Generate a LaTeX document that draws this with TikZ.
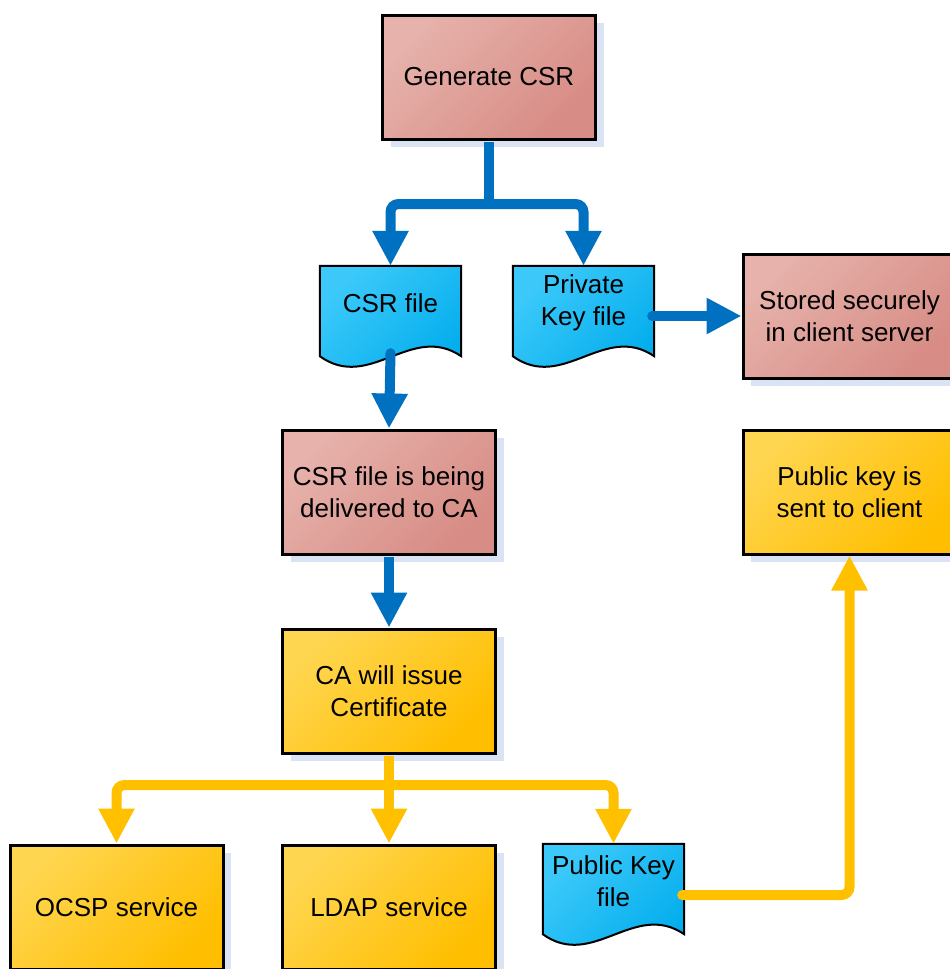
\documentclass[tikz,border=0pt]{standalone}
\usepackage{fontspec}
\setmainfont{Liberation Sans}
\usetikzlibrary{arrows.meta,shadows,backgrounds}

\definecolor{redtop}{RGB}{230,178,171}
\definecolor{redbot}{RGB}{215,140,133}
\definecolor{yeltop}{RGB}{255,214,80}
\definecolor{yelbot}{RGB}{255,190,0}
\definecolor{bluetop}{RGB}{60,201,250}
\definecolor{bluebot}{RGB}{0,172,236}
\definecolor{shadowc}{RGB}{218,227,243}
\definecolor{flowblue}{RGB}{0,112,192}
\definecolor{flowyellow}{RGB}{255,192,0}

% document (file) symbol drawn behind a text node
\newcommand\docpath[1]{(#1.north west) -- (#1.north east) -- ([shift={(0,16)}]#1.south east)
  .. controls ([shift={(-50,-18)}]#1.south east) and ([shift={(50,52)}]#1.south west) ..
  ([shift={(0,16)}]#1.south west) -- cycle}
\newcommand\docshape[1]{%
  \fill[shadowc, shift={(7,7)}] \docpath{#1};
  \shade[top color=bluetop, bottom color=bluebot, shading angle=45] \docpath{#1};
  \draw[line width=2pt, line join=miter] \docpath{#1};}

\begin{document}
\begin{tikzpicture}[x=1pt,y=-1pt,
  font=\fontsize{26}{32}\selectfont,
  box/.style={draw=black, line width=3pt, minimum width=213pt, minimum height=124pt,
    align=center, inner sep=0pt,
    general shadow={shadow xshift=8pt, shadow yshift=-8pt, fill=shadowc}},
  redbox/.style={box, top color=redtop, bottom color=redbot, shading angle=45},
  yelbox/.style={box, top color=yeltop, bottom color=yelbot, shading angle=45},
  docnode/.style={minimum width=141pt, minimum height=74pt, inner sep=0pt, align=center},
  tipshape/.style={-{Triangle[width=34pt,length=35pt]}},
  bflow/.style={draw=flowblue, line width=10pt},
  yflow/.style={draw=flowyellow, line width=10pt},
]
\useasboundingbox (0,0) rectangle (950,969);

% process boxes
\node[redbox] (gen)    at (489,77)    {Generate CSR};
\node[redbox] (stored) at (849.5,316) {Stored securely\\in client server};
\node[redbox] (deliv)  at (389,492)   {CSR file is being\\delivered to CA};
\node[yelbox] (pubsent) at (849.5,492) {Public key is\\sent to client};
\node[yelbox] (caiss)  at (389,691)   {CA will issue\\Certificate};
\node[yelbox] (ocsp)   at (116.5,907) {OCSP service};
\node[yelbox] (ldap)   at (389,907)   {LDAP service};

% file symbols
\node[docnode] (csrf) at (390.5,303) {CSR file};
\node[docnode] (pkf)  at (583.5,303) {Private\\Key file};
\node[docnode] (pubf) at (613.5,881) {Public Key\\file};
\begin{scope}[on background layer]
  \docshape{csrf}
  \docshape{pkf}
  \docshape{pubf}
\end{scope}

% blue flow
\coordinate (bsplit) at (489,204);
\draw[bflow] ([shift={(0,1.5)}]gen.south) -- (bsplit);
\draw[bflow, tipshape, rounded corners=8pt] (bsplit) -| (csrf.north);
\draw[bflow, tipshape, rounded corners=8pt] (bsplit) -| (pkf.north);
\draw[bflow, tipshape, line cap=round] ([shift={(0,13)}]csrf.south) -- (deliv.north);
\draw[bflow, tipshape, line cap=round] ([shift={(-2,13)}]pkf.east) -- (stored.west);
\draw[bflow, tipshape] ([shift={(0,1.5)}]deliv.south) -- (caiss.north);

% yellow flow
\coordinate (ysplit) at (389,785);
\draw[yflow] ([shift={(0,1.5)}]caiss.south) -- (ysplit);
\draw[yflow, tipshape, rounded corners=8pt] (ysplit) -| (ocsp.north);
\draw[yflow, tipshape] (ysplit) -- (ldap.north);
\draw[yflow, tipshape, rounded corners=8pt] (ysplit) -| (pubf.north);
\draw[yflow, tipshape, line cap=round, rounded corners=8pt] ([shift={(-2,14)}]pubf.east) -| (pubsent.south);
\end{tikzpicture}
\end{document}
